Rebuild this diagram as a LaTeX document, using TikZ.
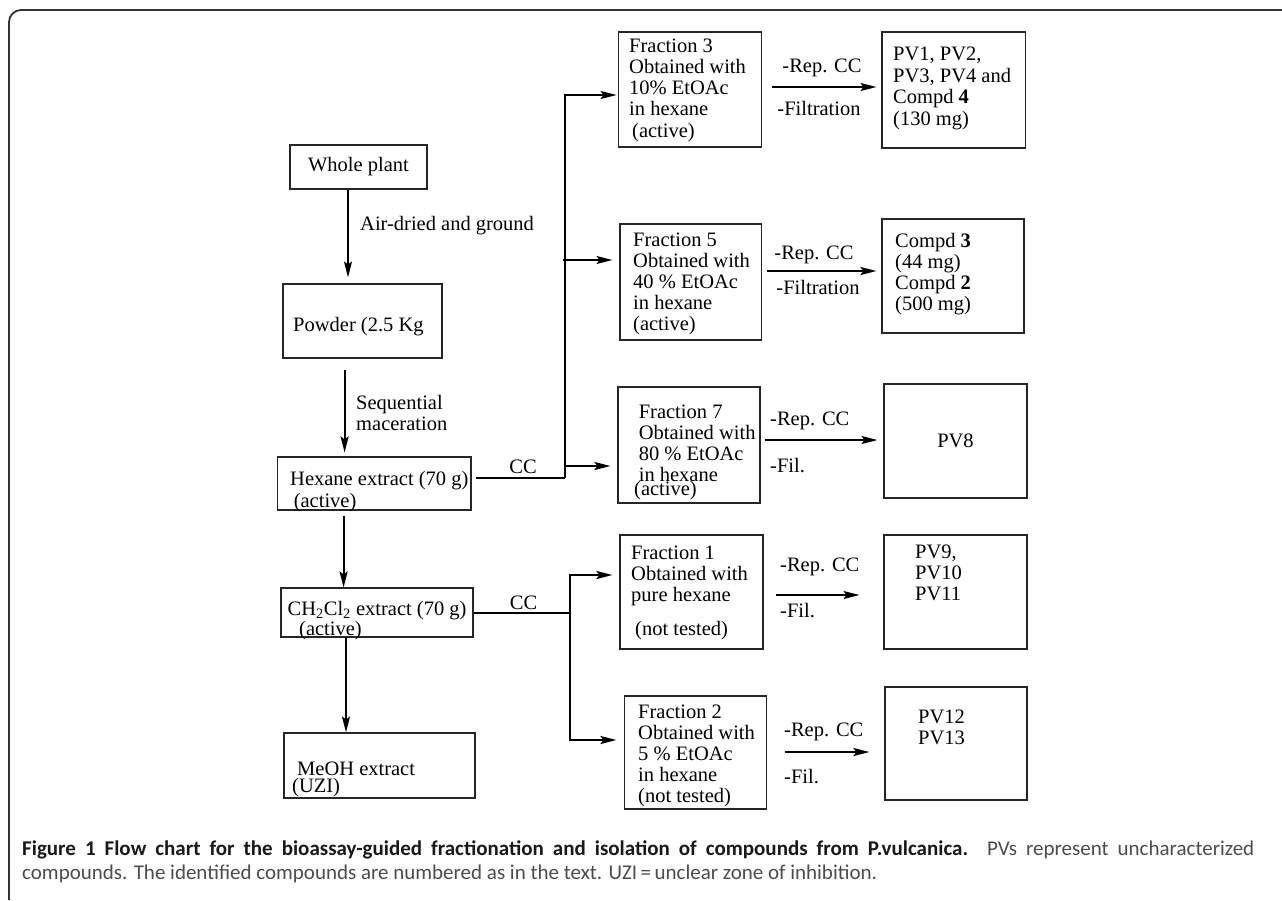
\documentclass[tikz,border=0pt]{standalone}
\usepackage{fontspec}
\setmainfont{Liberation Serif}
\newfontfamily\capfont{Carlito}
\usetikzlibrary{arrows.meta,calc}
\begin{document}
\begin{tikzpicture}[x=1pt,y=-1pt,
  box/.style={draw=black!85, line width=1.1pt, inner sep=0pt, font=\fontsize{20.5}{21}\selectfont},
  txt/.style={inner sep=0pt, align=left, anchor=base west, font=\fontsize{20.5}{21}\selectfont},
  lbl/.style={inner sep=0pt, font=\fontsize{20.5}{21}\selectfont},
  arr/.style={-{Stealth[length=16pt,width=8pt,inset=3pt]}, line width=1.2pt},
  tarr/.style={arr, line width=2.2pt},
  ln/.style={line width=1.2pt},
  tln/.style={line width=2.2pt},
  capt/.style={inner sep=0pt, anchor=base west, font=\capfont\fontsize{21}{23}\selectfont},
]
\useasboundingbox (0,0) rectangle (1282,900);
\fill[white] (0,0) rectangle (1282,900);
% frame
\draw[line width=1.8pt, black!80, rounded corners=12pt] (1282,10) -- (9,10) -- (9,900);

% left column boxes
\node[box, minimum width=137pt, minimum height=44pt] (wp) at (358.5,167) {Whole plant};
\node[box, minimum width=159pt, minimum height=74pt] (pw) at (362.5,321) {};
\node[box, minimum width=193.5pt, minimum height=53pt] (hx) at (374.25,483.5) {};
\node[box, minimum width=192pt, minimum height=49pt] (ch) at (377,612.5) {};
\node[box, minimum width=191pt, minimum height=65pt] (me) at (379.5,765.5) {};

% fraction boxes
\node[box, minimum width=143pt, minimum height=115pt] (f3) at (690.1,89.5) {};
\node[box, minimum width=141.8pt, minimum height=116pt] (f5) at (690.9,282) {};
\node[box, minimum width=142pt, minimum height=116pt] (f7) at (689,445) {};
\node[box, minimum width=143pt, minimum height=114pt] (f1) at (691.5,592) {};
\node[box, minimum width=142.2pt, minimum height=113pt] (f2) at (695.7,752.5) {};

% product boxes
\node[box, minimum width=143.7pt, minimum height=116pt] (pv1) at (953.85,90) {};
\node[box, minimum width=142pt, minimum height=114pt] (cp) at (953,276) {};
\node[box, minimum width=143pt, minimum height=114pt] (pv8) at (955.5,441) {PV8};
\node[box, minimum width=143pt, minimum height=114pt] (pv9) at (955.5,592) {};
\node[box, minimum width=142pt, minimum height=113pt] (pv12) at (956,743.5) {};

% texts in boxes (base = baseline of the last line)
\node[txt] (pwt) at (293,331) {Powder (2.5 Kg};
\node[txt] (hxt) at (290,507) {Hexane extract (70 g)\\[1pt]\hspace{3.6pt}(active)};
\node[txt] (cht) at (287.5,635) {CH\textsubscript{2}Cl\textsubscript{2} extract (70 g)\\[-1pt]\hspace{11.5pt}(active)};
\node[txt] (met) at (297,792) {MeOH extract\\[-4pt]\hspace{-5pt}(UZI)};
\node[txt] (f3t) at (629,137) {Fraction 3\\Obtained with\\10\% EtOAc\\in hexane\\[1pt]\hspace{3pt}(active)};
\node[txt] (f5t) at (633,330) {Fraction 5\\Obtained with\\40 \% EtOAc\\in hexane\\(active)};
\node[txt] (f7t) at (638.6,495) {Fraction 7\\Obtained with\\80 \% EtOAc\\in hexane\\[-7pt]\hspace{-4.6pt}(active)};
\node[txt] (f1t) at (631,635) {Fraction 1\\Obtained with\\pure hexane\\[13pt]\hspace{4pt}(not tested)};
\node[txt] (f2t) at (638,802) {Fraction 2\\Obtained with\\5 \% EtOAc\\in hexane\\(not tested)};
\node[txt] (pv1t) at (893,125) {PV1, PV2,\\[0.5pt]PV3, PV4 and\\[0.5pt]Compd \textbf{4}\\[0.5pt](130 mg)};
\node[txt] (cpt) at (895,310) {Compd \textbf{3}\\(44 mg)\\Compd \textbf{2}\\(500 mg)};
\node[txt] (pv9t) at (915,600) {PV9,\\PV10\\PV11};
\node[txt] (pv12t) at (918,744) {PV12\\PV13};

% vertical chain
\coordinate (xa) at (348,0);
\coordinate (xb) at (344.6,0);
\coordinate (xc) at (343.6,0);
\coordinate (xd) at (346,0);
\draw[arr, shorten >=6pt] (wp.south -| xa) -- (pw.north -| xa);
\draw[tarr, shorten <=11pt, shorten >=4pt] (pw.south -| xb) -- (hx.north -| xb);
\draw[tarr, shorten <=5pt] (hx.south -| xc) -- (ch.north -| xc);
\draw[arr] (ch.south -| xd) -- (me.north -| xd);
\node[txt] (l1) at (360,230) {Air-dried and ground};
\node[txt] (l2) at (356,430) {Sequential\\maceration};

% hexane CC branch
\coordinate (t1) at (565,478);
\coordinate (y3) at (0,95);
\coordinate (y5) at (0,260);
\coordinate (y7) at (0,466);
\draw[tln, shorten <=4.5pt] (hx.east |- t1) -- (t1);
\draw[arr, shorten >=1.5pt] (t1) -- (t1 |- y3) -- (f3.west |- y3);
\draw[arr, shorten >=7pt] ([xshift=-2pt]t1 |- y5) -- (f5.west |- y5);
\draw[tarr, shorten >=7pt] (t1 |- y7) -- (f7.west |- y7);
\node[lbl] (cc1) at (523,467) {CC};

% CH2Cl2 CC branch
\coordinate (t2) at (570,613);
\coordinate (y1) at (0,575);
\coordinate (y2) at (0,740);
\draw[ln] (ch.east |- t2) -- ([xshift=1pt]t2);
\draw[tarr, shorten >=7pt] (t2 |- y2) -- (t2 |- y1) -- (f1.west |- y1);
\draw[tarr, shorten >=7.6pt] (t2 |- y1) -- (t2 |- y2) -- (f2.west |- y2);
\node[lbl] (cc2) at (523.6,603) {CC};

% horizontal arrows to products
\coordinate (z3) at (0,87);
\coordinate (z5) at (0,271);
\coordinate (z7) at (0,440);
\coordinate (z1) at (0,595);
\coordinate (z2) at (0,752);
\draw[arr, shorten <=9.4pt, shorten >=5pt] (f3.east |- z3) -- (pv1.west |- z3);
\draw[tarr, shorten <=4.2pt, shorten >=5pt] (f5.east |- z5) -- (cp.west |- z5);
\draw[arr, shorten <=4pt, shorten >=6pt] (f7.east |- z7) -- (pv8.west |- z7);
\draw[arr, shorten <=12pt, shorten >=24pt] (f1.east |- z1) -- (pv9.west |- z1);
\draw[tarr, shorten <=17.2pt, shorten >=15pt] (f2.east |- z2) -- (pv12.west |- z2);

\node[lbl] (r3) at (822,68) {-Rep. CC};
\node[lbl] (s3) at (819,108) {-Filtration};
\node[lbl] (r5) at (814,255) {-Rep. CC};
\node[lbl] (s5) at (818,287) {-Filtration};
\node[lbl, anchor=west] (r7) at (770,421) {-Rep. CC};
\node[lbl, anchor=west] (s7) at (770,466) {-Fil.};
\node[lbl, anchor=west] (r1) at (780,567) {-Rep. CC};
\node[lbl, anchor=west] (s1) at (780,611) {-Fil.};
\node[lbl, anchor=west] (r2) at (784,732) {-Rep. CC};
\node[lbl, anchor=west] (s2) at (784,777) {-Fil.};

% caption
\node[capt] (cap1) at (22,855) {\makebox[1232pt][s]{\bfseries\color{black!90}Figure 1 Flow chart for the bioassay-guided fractionation and isolation of compounds from P.vulcanica. \mdseries\color{black!70}PVs represent uncharacterized}};
\node[capt] (cap2) at (22,879) {\color{black!70}compounds. The identified compounds are numbered as in the text. UZI\,=\,unclear zone of inhibition.};
\end{tikzpicture}
\end{document}
